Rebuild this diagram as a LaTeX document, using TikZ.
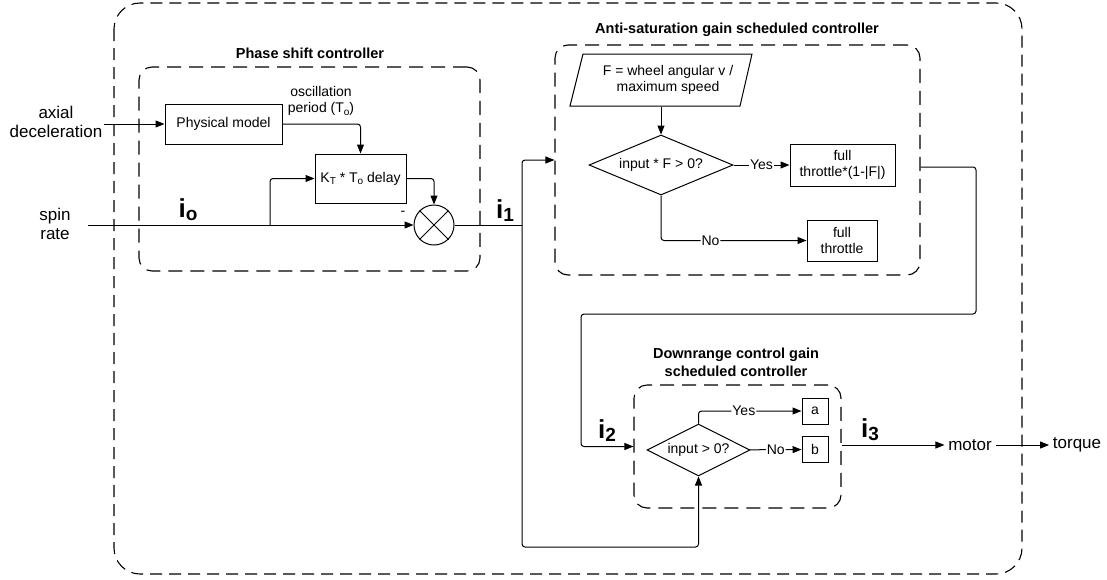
\documentclass[tikz,border=0pt]{standalone}
\usepackage{fontspec}
\setmainfont{Liberation Sans}
\usetikzlibrary{arrows.meta, shapes.geometric}
\newcommand\bodyfont{\fontsize{14}{16.5}\selectfont}
\newcommand\outfont{\fontsize{17}{19}\selectfont}
\newcommand\titlefont{\fontsize{14.5}{18}\selectfont\bfseries}
\newcommand\lsub[1]{\raisebox{-0.35ex}{\fontsize{10}{10}\selectfont #1}}
\newcommand\isig[1]{i\raisebox{-3pt}{\fontsize{19}{19}\selectfont #1}}
\tikzset{
  block/.style={rectangle, draw, fill=white, font=\bodyfont, align=center, inner sep=1pt},
  decision/.style={diamond, draw, fill=white, inner sep=0pt, label={[font=\bodyfont]center:#1}},
  group/.style={draw, line width=1.1pt, dash pattern=on 14pt off 8pt, rounded corners=13pt, inner sep=0pt},
  arr/.style={-{Triangle[length=9pt, width=7pt]}, rounded corners=3pt},
  lbl/.style={font=\bodyfont, fill=white, inner sep=1pt},
  sig/.style={font=\fontsize{26}{26}\selectfont\bfseries},
}
\begin{document}
\begin{tikzpicture}[x=1pt, y=-1pt, line width=1pt]
\useasboundingbox (0,0) rectangle (1107,579);
\draw[group, dash pattern=on 12pt off 7pt, rounded corners=26pt] (114,3) rectangle (1022,574);

% phase shift controller
\node[group, minimum width=341pt, minimum height=204pt] (phasebox) at (309.5,169) {};
\node[font=\titlefont] at (310,53) {Phase shift controller};
\node[font=\outfont, align=center, inner sep=1pt] (axial) at (56,122) {axial\\deceleration};
\node[font=\outfont, align=center] (spin) at (55,224) {spin\\rate};
\node[block, minimum width=117pt, minimum height=40pt] (phys) at (223.5,124) {Physical model};
\node[font=\bodyfont, align=center] (osc) at (321,101) {oscillation\\period (T\lsub{o})};
\node[block, minimum width=91pt, minimum height=49pt] (kdel) at (360.5,178.5) {K\lsub{T} * T\lsub{o} delay};
\node[circle, draw, minimum size=40pt, inner sep=0pt] (sum) at (434,225) {};
\draw (sum.north east) -- (sum.south west) (sum.north west) -- (sum.south east);
\node[font=\bodyfont] at (403,213) {-};
\coordinate (spinin) at (88,225);
\coordinate (fork) at (270,225);
\coordinate (trunk) at (522,225);
\coordinate (trunkend) at (522,547);

% anti-saturation controller
\node[group, minimum width=365pt, minimum height=230pt] (antibox) at (737.5,160) {};
\node[font=\titlefont] at (737,30) {Anti-saturation gain scheduled controller};
\draw[fill=white] (570,106) -- (583,54) -- (752,54) -- (740,106) -- cycle;
\node[font=\bodyfont, align=center, minimum height=52pt] (ratio) at (668,80) {F = wheel angular v /\\ maximum speed};
\node[decision={input * F > 0?}, minimum width=144pt, minimum height=60pt] (chk) at (661,165) {};
\node[block, minimum width=105pt, minimum height=42pt] (thr1) at (842.5,165) {full\\throttle*(1-|F|)};
\node[block, minimum width=70pt, minimum height=41pt] (thr2) at (842,240.5) {full\\throttle};
\coordinate (loopa) at (976,314);
\coordinate (loopb) at (581,314);

% downrange controller
\node[group, minimum width=207pt, minimum height=123pt] (downbox) at (737.5,446.5) {};
\node[font=\titlefont, align=center] at (736,362) {Downrange control gain\\scheduled controller};
\node[decision={input > 0?}, minimum width=103pt, minimum height=52pt] (dchk) at (698.5,450) {};
\node[block, minimum size=26pt] (outa) at (815,411) {a};
\node[block, minimum size=26pt] (outb) at (815,449.5) {b};
\node[font=\outfont] (motor) at (970,445) {motor};
\node[font=\outfont] (torque) at (1077,445) {torque};

\node[sig] at (188,210) {\isig{o}};
\node[sig] at (505,211) {\isig{1}};
\node[sig] at (607,431) {\isig{2}};
\node[sig] at (870,430) {\isig{3}};

% signal paths
\draw[arr] (axial.east |- phys.west) -- (phys.west);
\draw[arr] (spinin) -- (sum.west);
\draw[arr] (fork) |- (kdel.west);
\draw[arr] (phys.east) -| (kdel.north);
\draw[arr] (kdel.east) -| (sum.north);
\draw (sum.east) -- (trunk);
\draw[arr] (trunk) |- (antibox.west);
\draw[arr] (trunk) -- (trunkend) -| (dchk.south);
\draw[arr] (chk.north |- ratio.south) -- (chk.north);
\draw[arr] (chk) -- node[lbl]{Yes} (thr1);
\draw[arr] (chk.south) |- node[lbl, pos=0.67]{No} (thr2.west);
\draw[arr] ([yshift=-7pt]antibox.east) -| (loopa) -- (loopb) |- (downbox.west);
\draw[arr] (dchk.north) |- node[lbl, pos=0.72]{Yes} (outa.west);
\draw[arr] (dchk) -- node[lbl]{No} (outb);
\draw[arr] (downbox.east |- motor.west) -- (motor.west);
\draw[arr] (motor) -- (torque);
\end{tikzpicture}
\end{document}
